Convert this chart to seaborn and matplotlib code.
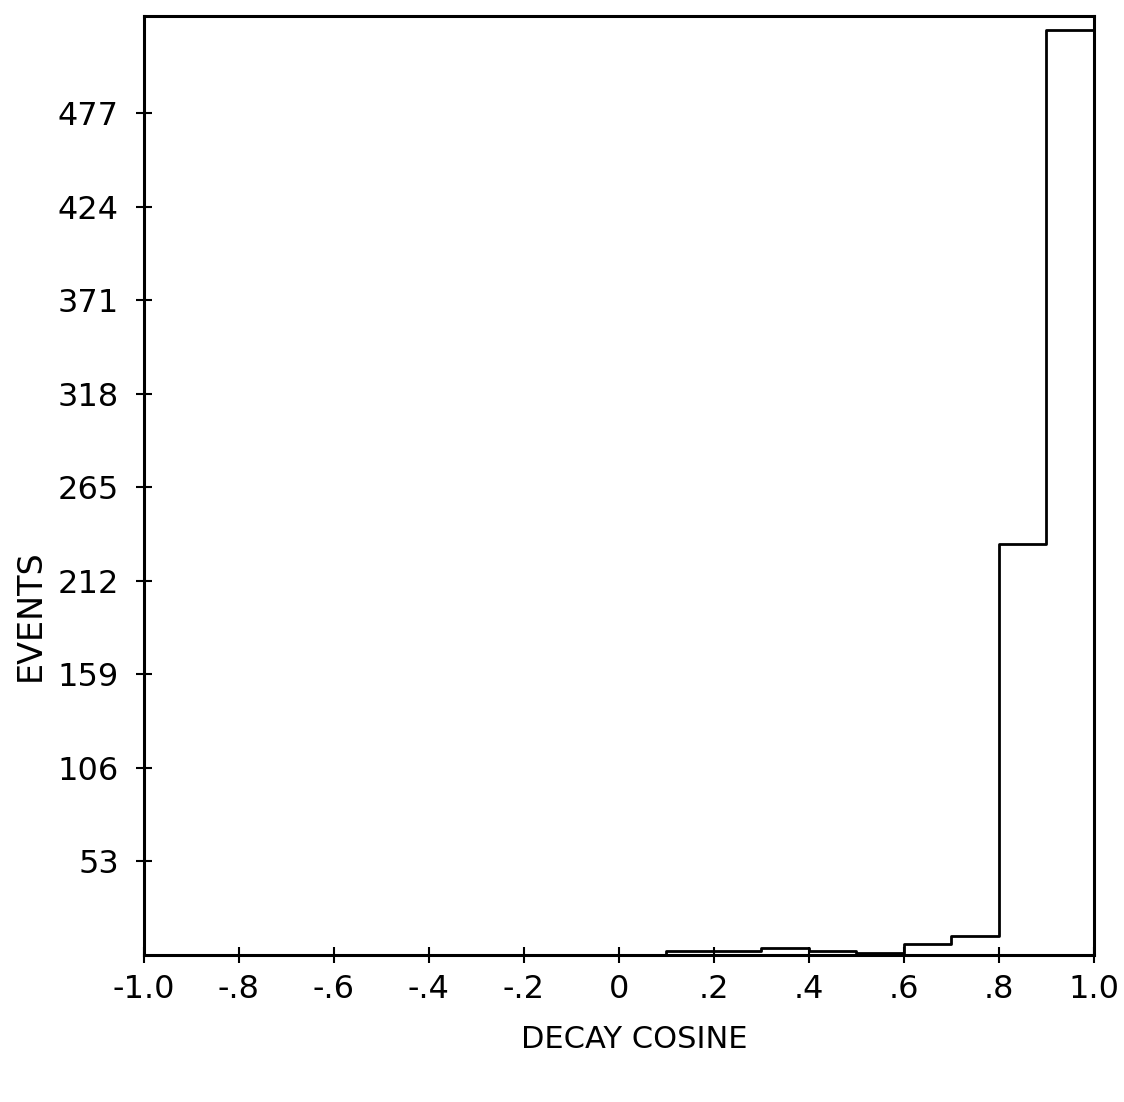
import numpy as np
import matplotlib
matplotlib.use("Agg")
import matplotlib.pyplot as plt
import seaborn as sns

# Decay cosine histogram: 20 bins of width 0.1 from -1.0 to 1.0
bin_edges = [round(-1.0 + 0.1 * i, 1) for i in range(21)]
event_counts = [0, 0, 0, 0, 0, 0, 0, 0, 0, 0,
                0, 2, 2, 4, 2, 1, 6, 11, 233, 524]

y_ticks = [53, 106, 159, 212, 265, 318, 371, 424, 477]
x_ticks = [-1.0, -0.8, -0.6, -0.4, -0.2, 0.0, 0.2, 0.4, 0.6, 0.8, 1.0]
x_tick_labels = ["-1.0", "-.8", "-.6", "-.4", "-.2", "0", ".2", ".4", ".6", ".8", "1.0"]

sns.set_style("white")
plt.rcParams["font.family"] = ["DejaVu Sans"]

fig = plt.figure(figsize=(11.24, 11.02), dpi=100)
ax = fig.add_axes([0.128, 0.1334, 0.845, 0.852])

centers = [(bin_edges[i] + bin_edges[i + 1]) / 2 for i in range(len(event_counts))]
sns.histplot(x=centers, weights=event_counts, bins=bin_edges, element="step",
             fill=False, color="black", linewidth=2.0, ax=ax)

ax.set_xlim(-1.0, 1.0)
ax.set_ylim(0, 532)
ax.set_xticks(x_ticks)
ax.set_xticklabels(x_tick_labels)
ax.set_yticks(y_ticks)
ax.set_yticklabels([str(v) for v in y_ticks])

for side in ax.spines.values():
    side.set_visible(True)
    side.set_color("black")
    side.set_linewidth(2.2)

ax.tick_params(axis="both", which="major", bottom=True, left=True,
               direction="inout", length=12, width=1.5,
               colors="black", labelcolor="black", labelsize=23)
ax.tick_params(axis="x", pad=8)
ax.tick_params(axis="y", pad=12)

ax.set_xlabel("DECAY COSINE", fontsize=22, color="black")
ax.set_ylabel("EVENTS", fontsize=24, color="black")
ax.xaxis.set_label_coords(0.516, -0.075)
ax.yaxis.set_label_coords(-0.102, 0.362)
ax.grid(False)

fig.savefig("out.png", dpi=100, facecolor="white")
